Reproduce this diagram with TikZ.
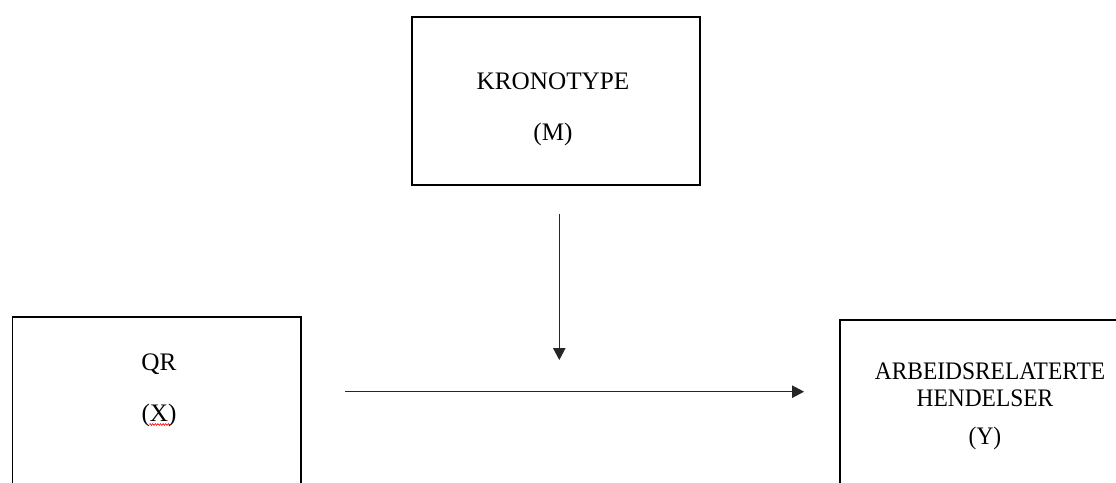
\documentclass[tikz,border=0pt]{standalone}
\usepackage{fontspec}
\setmainfont{Liberation Serif}
\newfontfamily\narrowserif[FakeStretch=0.93]{Liberation Serif}
\usetikzlibrary{arrows.meta,decorations.pathmorphing}
\tikzset{
  box/.style={draw=black, line width=1.8pt, fill=none, inner sep=0pt},
  lbl/.style={anchor=base, inner sep=0pt, font=\fontsize{25.2}{30}\selectfont},
  rlbl/.style={anchor=base, inner sep=0pt, font=\fontsize{25.2}{30}\selectfont\narrowserif},
  arr/.style={draw=black!85, line width=0.9pt, -{Triangle[length=12pt,width=12.5pt]}},
  squig/.style={draw=red, line width=0.6pt, decorate, decoration={zigzag, amplitude=0.9pt, segment length=2.6pt}}
}
\begin{document}
\begin{tikzpicture}[x=1pt,y=-1pt]
\useasboundingbox (0,0) rectangle (1116,482);
% boxes
\node[box, minimum width=288pt, minimum height=168pt] (M) at (556,101) {};
\node[box, minimum width=288.5pt, minimum height=203pt] (X) at (156.75,418.5) {};
\node[box, minimum width=300pt, minimum height=200pt] (Y) at (990,420) {};
% texts
\node[lbl] (mt1) at (553,89) {KRONOTYPE};
\node[lbl] (mt2) at (553,140) {(M)};
\node[lbl] (xt1) at (159,370) {QR};
\node[lbl] (xt2) at (159,421) {(X)};
\node[rlbl] (yt1) at (990,379) {ARBEIDSRELATERTE};
\node[rlbl] (yt2) at (985,406) {HENDELSER};
\node[rlbl] (yt3) at (985,444) {(Y)};
% spell-check squiggle under X
\coordinate (sq1) at (149.5,424.5);
\coordinate (sq2) at (170,424.5);
\draw[squig] (sq1) -- (sq2);
% arrows
\coordinate (vs) at (559.3,214);
\coordinate (ve) at (559.3,360);
\coordinate (hs) at (345,391.7);
\coordinate (he) at (804,391.7);
\draw[arr] (vs) -- (ve);
\draw[arr] (hs) -- (he);
\end{tikzpicture}
\end{document}
